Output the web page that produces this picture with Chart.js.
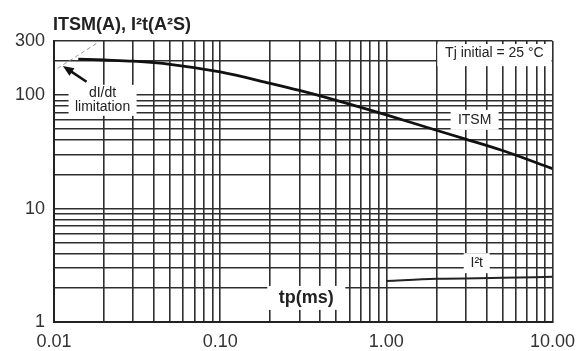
<!DOCTYPE html>
<html>
<head>
<meta charset="utf-8">
<script src="https://cdn.jsdelivr.net/npm/chart.js@4.4.1/dist/chart.umd.min.js"></script>
<style>
  html, body { margin: 0; padding: 0; background: #fff; }
  #wrap { width: 584px; height: 351px; position: relative; }
</style>
</head>
<body>
<div id="wrap"><canvas id="surgeChart"></canvas></div>
<script>
  // pulse width tp (ms) and values
  const tp = [0.014, 0.02, 0.03, 0.05, 0.1, 0.2, 0.3, 0.5, 1, 2, 3, 5, 10];
  const itsm = [208, 204, 199, 187, 160, 127, 110, 90, 67, 49, 41, 32.5, 22.5];
  const tpI2t = [1, 2, 5, 10];
  const i2t = [2.3, 2.4, 2.45, 2.5];
  // dI/dt limitation (dashed)
  const tpLimit = [0.0105, 0.019];
  const limit = [172, 300];

  const xMajor = [0.01, 0.1, 1, 10];
  const xTickLabels = ['0.01', '0.10', '1.00', '10.00'];
  const yMajor = [1, 10, 100, 300];
  const yTickLabels = ['1', '10', '100', '300'];

  // log paper grid: 1..9 in every decade
  const xGrid = [];
  [0.01, 0.1, 1].forEach(d => { for (let k = 1; k <= 9; k++) xGrid.push(+(k * d).toPrecision(3)); });
  xGrid.push(10);
  const yGrid = [];
  [1, 10].forEach(d => { for (let k = 1; k <= 9; k++) yGrid.push(k * d); });
  yGrid.push(100, 200, 300);

  const FONT = 'Liberation Sans, Arial, sans-serif';
  const pts = (xs, ys) => xs.map((v, i) => ({ x: v, y: ys[i] }));
  const pick = (majors, labels) => v => {
    const i = majors.findIndex(m => Math.abs(m - v) / m < 1e-6);
    return i < 0 ? '' : labels[i];
  };

  const notes = {
    id: 'notes',
    beforeDatasetsDraw(chart) {
      const { ctx, chartArea: a, scales: { x, y } } = chart;
      ctx.save();
      ctx.fillStyle = '#fff';
      // Tj box, top right
      const bx = x.getPixelForValue(2) + 1;
      ctx.fillRect(bx, a.top + 3, a.right - 1 - bx, y.getPixelForValue(180) - a.top - 3);
      const box = (t, v, w, h) => {
        const cx = x.getPixelForValue(t), cy = y.getPixelForValue(v);
        ctx.fillRect(cx - w / 2, cy - h / 2, w, h);
      };
      box(3.4, 60.5, 48, 20);
      box(3.5, 3.3, 26, 20);
      box(0.33, 1.63, 78, 24);
      box(0.0196, 90, 68, 31);
      ctx.restore();
    },
    afterDatasetsDraw(chart) {
      const { ctx, chartArea: a, scales: { x, y } } = chart;
      ctx.save();
      ctx.fillStyle = '#222';
      ctx.textBaseline = 'alphabetic';
      ctx.textAlign = 'left';
      ctx.font = 'bold 18px ' + FONT;
      ctx.fillText('ITSM(A), I²t(A²S)', 53, 30);

      ctx.textAlign = 'center';
      ctx.textBaseline = 'middle';
      ctx.font = '14px ' + FONT;
      ctx.fillText('Tj initial = 25 °C', (x.getPixelForValue(2) + a.right) / 2, y.getPixelForValue(235));
      ctx.fillText('ITSM', x.getPixelForValue(3.4), y.getPixelForValue(60.5));
      ctx.fillText('I²t', x.getPixelForValue(3.5), y.getPixelForValue(3.3));
      ctx.fillText('dI/dt', x.getPixelForValue(0.0196), y.getPixelForValue(90) - 7);
      ctx.fillText('limitation', x.getPixelForValue(0.0196), y.getPixelForValue(90) + 7);
      ctx.font = 'bold 18px ' + FONT;
      ctx.fillText('tp(ms)', x.getPixelForValue(0.33), y.getPixelForValue(1.63));

      // arrow pointing at the start of the curve
      const x0 = x.getPixelForValue(0.0157), y0 = y.getPixelForValue(131);
      const x1 = x.getPixelForValue(0.0113), y1 = y.getPixelForValue(181);
      const ang = Math.atan2(y1 - y0, x1 - x0);
      ctx.strokeStyle = '#111';
      ctx.lineWidth = 2.5;
      ctx.beginPath();
      ctx.moveTo(x0, y0);
      ctx.lineTo(x1 - 8 * Math.cos(ang), y1 - 8 * Math.sin(ang));
      ctx.stroke();
      ctx.fillStyle = '#111';
      ctx.beginPath();
      ctx.moveTo(x1, y1);
      ctx.lineTo(x1 - 11 * Math.cos(ang) + 4.5 * Math.sin(ang), y1 - 11 * Math.sin(ang) - 4.5 * Math.cos(ang));
      ctx.lineTo(x1 - 11 * Math.cos(ang) - 4.5 * Math.sin(ang), y1 - 11 * Math.sin(ang) + 4.5 * Math.cos(ang));
      ctx.closePath();
      ctx.fill();
      ctx.restore();
    }
  };

  new Chart(document.getElementById('surgeChart'), {
    type: 'line',
    data: {
      datasets: [
        { label: 'ITSM', data: pts(tp, itsm), borderColor: '#111', borderWidth: 2.8,
          cubicInterpolationMode: 'monotone', pointRadius: 0 },
        { label: 'I²t', data: pts(tpI2t, i2t), borderColor: '#222', borderWidth: 2,
          cubicInterpolationMode: 'monotone', pointRadius: 0 },
        { label: 'dI/dt limitation', data: pts(tpLimit, limit), borderColor: '#999', borderWidth: 1,
          borderDash: [4, 3], pointRadius: 0 }
      ]
    },
    options: {
      responsive: true,
      maintainAspectRatio: false,
      animation: false,
      layout: { padding: { top: 41, right: 25, left: 0, bottom: 0 } },
      plugins: { legend: { display: false }, tooltip: { enabled: false } },
      scales: {
        x: {
          type: 'logarithmic', min: 0.01, max: 10,
          afterBuildTicks: s => { s.ticks = xGrid.map(v => ({ value: v })); },
          afterFit: s => { s.height = 29; },
          ticks: { autoSkip: false, maxRotation: 0, padding: 9, color: '#333',
            font: { family: FONT, size: 18 }, callback: pick(xMajor, xTickLabels) },
          grid: { color: '#2e2e2e', lineWidth: 1.6, drawTicks: false },
          border: { color: '#222', width: 2 }
        },
        y: {
          type: 'logarithmic', min: 1, max: 300,
          afterBuildTicks: s => { s.ticks = yGrid.map(v => ({ value: v })); },
          afterFit: s => { s.width = 54; },
          ticks: { autoSkip: false, padding: 9, color: '#333',
            font: { family: FONT, size: 18 }, callback: pick(yMajor, yTickLabels) },
          grid: { color: '#2e2e2e', lineWidth: 1.6, drawTicks: false },
          border: { color: '#222', width: 2 }
        }
      }
    },
    plugins: [notes]
  });
</script>
</body>
</html>
